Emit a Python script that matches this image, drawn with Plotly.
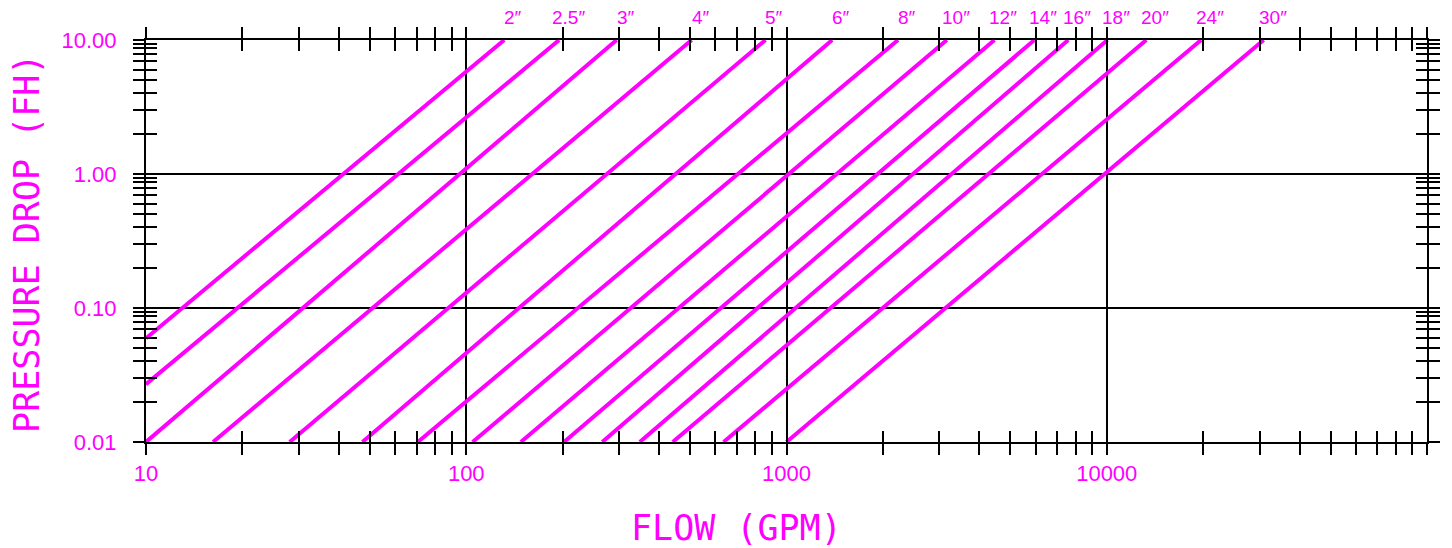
import math
import plotly.graph_objects as go

# ---- data ----
pipe_sizes = ['2″', '2.5″', '3″', '4″', '5″', '6″', '8″', '10″', '12″', '14″', '16″', '18″', '20″', '24″', '30″']
# start point of each line (flow GPM, pressure drop FH)
start_flow = [10, 10, 10, 16.2, 28.1, 47.4, 70.6, 104.7, 148.1, 202.0, 265.9, 348.3, 441.4, 636.1, 1000]
start_dp = [0.0594, 0.0270, 0.01, 0.01, 0.01, 0.01, 0.01, 0.01, 0.01, 0.01, 0.01, 0.01, 0.01, 0.01, 0.01]
# end point of each line
end_flow = [131.4, 195.0, 294.8, 505.7, 859.7, 1389, 2230, 3168, 4460, 5943, 7584, 10050, 13290, 19710, 30900]
end_dp = [10] * 15

x_major = [10, 100, 1000, 10000, 100000]
x_labels = ['10', '100', '1000', '10000', '']
x_minor = [m * d for d in [10, 100, 1000, 10000] for m in [2, 3, 4, 5, 6, 7, 8, 9]]
y_major = [0.01, 0.1, 1, 10]
y_labels = ['0.01', '0.10', '1.00', '10.00']
y_minor = [m * d for d in [0.01, 0.1, 1] for m in [2, 3, 4, 5, 6, 7, 7.9, 8.7, 9.35]]

MAG = '#FF00FF'
TICKFONT = dict(family='Liberation Sans, Arial, sans-serif', size=22, color=MAG)
TITLEFONT = dict(family='DejaVu Sans Mono, monospace', size=35, color=MAG)

fig = go.Figure()
for name, x0, y0, x1, y1 in zip(pipe_sizes, start_flow, start_dp, end_flow, end_dp):
    fig.add_trace(go.Scatter(x=[x0, x1], y=[y0, y1], mode='lines',
                             line=dict(color=MAG, width=4), name=name,
                             showlegend=False, hoverinfo='skip'))
    # label above the top end of each line (log axis -> log10 coordinate)
    fig.add_annotation(x=math.log10(x1), y=1, xref='x', yref='paper', text=name,
                       showarrow=False, xanchor='center', yanchor='middle',
                       xshift=9, yshift=23,
                       font=dict(family='Liberation Sans, Arial, sans-serif', size=19, color=MAG))

# empty trace to register the overlay axes (used for inward-pointing ticks)
fig.add_trace(go.Scatter(x=[], y=[], xaxis='x2', yaxis='y2', showlegend=False, hoverinfo='skip'))

common_tick = dict(ticklen=11, tickwidth=2, tickcolor='black')

fig.update_layout(
    width=1444, height=540, autosize=False,
    margin=dict(l=138, r=21, t=32, b=106),
    paper_bgcolor='white', plot_bgcolor='white',
    showlegend=False,
    xaxis=dict(type='log', range=[1, 5], showline=True, linecolor='black', linewidth=2,
               mirror='ticks', ticks='outside', tickmode='array', tickvals=x_major,
               ticktext=x_labels, tickfont=TICKFONT, showgrid=True, gridcolor='black',
               gridwidth=2, zeroline=False,
               minor=dict(tickmode='array', tickvals=x_minor, ticks='outside', showgrid=False,
                          **common_tick),
               **common_tick),
    xaxis2=dict(type='log', range=[1, 5], overlaying='x', anchor='y2', side='bottom',
                showline=True, linecolor='black', linewidth=2, mirror='ticks',
                ticks='inside', tickmode='array', tickvals=x_major, showticklabels=False,
                showgrid=False, zeroline=False,
                minor=dict(tickmode='array', tickvals=x_minor, ticks='inside', showgrid=False,
                           **common_tick),
                **common_tick),
    yaxis=dict(type='log', range=[-2, 1], showline=True, linecolor='black', linewidth=2,
               mirror='ticks', ticks='outside', tickmode='array', tickvals=y_major,
               ticktext=y_labels, tickfont=TICKFONT, ticklabelstandoff=12,
               showgrid=True, gridcolor='black', gridwidth=2, zeroline=False,
               minor=dict(tickmode='array', tickvals=y_minor, ticks='outside', showgrid=False,
                          **common_tick),
               **common_tick),
    yaxis2=dict(type='log', range=[-2, 1], overlaying='y', anchor='x2', side='left',
                showline=True, linecolor='black', linewidth=2, mirror='ticks',
                ticks='inside', tickmode='array', tickvals=y_major, showticklabels=False,
                showgrid=False, zeroline=False,
                minor=dict(tickmode='array', tickvals=y_minor, ticks='inside', showgrid=False,
                           **common_tick),
                **common_tick),
)

fig.add_annotation(text='FLOW (GPM)', xref='paper', yref='paper', x=0.461, y=-0.214,
                   showarrow=False, xanchor='center', yanchor='middle', font=TITLEFONT)
fig.add_annotation(text='PRESSURE DROP (FH)', xref='paper', yref='paper', x=-0.093, y=0.495,
                   showarrow=False, xanchor='center', yanchor='middle', textangle=-90,
                   font=TITLEFONT)

# screenshot frame edge on the right
fig.add_shape(type='line', xref='paper', yref='paper', x0=1.0145, x1=1.0145, y0=-0.27, y1=1.11,
              line=dict(color='black', width=2))

fig.write_html('out.html')
